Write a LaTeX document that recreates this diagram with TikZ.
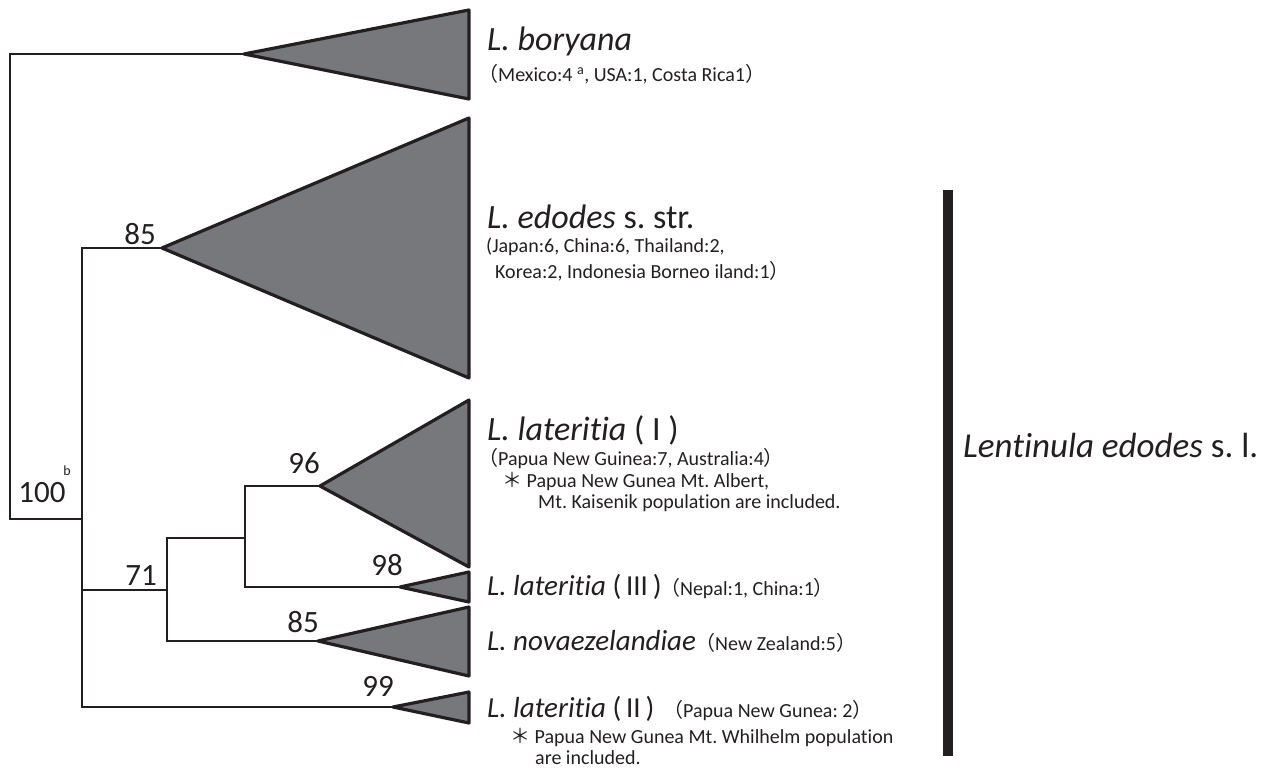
\documentclass[tikz,border=0pt]{standalone}
\usepackage{fontspec}
\setmainfont{Carlito}[Ligatures=NoCommon]
\newfontfamily\cjk{Noto Sans CJK JP}
\definecolor{cladegray}{HTML}{77787C}
\definecolor{ink}{HTML}{231F20}
\frenchspacing
\tikzset{
  branch/.style={draw=ink, line width=2.4pt, line join=miter, line cap=rect},
  clade/.style={draw=ink, fill=cladegray, line width=3.2pt, line join=round},
  bs/.style={font=\fontsize{31}{36}\selectfont, text=ink, inner sep=0pt},
  bigname/.style={font=\fontsize{34}{40}\selectfont, text=ink, anchor=base west, inner sep=0pt},
  midname/.style={font=\fontsize{29}{34}\selectfont, text=ink, anchor=base west, inner sep=0pt},
  info/.style={font=\fontsize{20}{24}\selectfont, text=ink, anchor=base west, inner sep=0pt},
  groupbar/.style={draw=ink, line width=10pt},
}
\begin{document}
\begin{tikzpicture}[x=1pt,y=-1pt]
\useasboundingbox (0,0) rectangle (1274,770);

% tree junction coordinates
\coordinate (rtop) at (10,54);
\coordinate (rbot) at (10,519);
\coordinate (n1in) at (82,519);
\coordinate (n1top) at (82,248);
\coordinate (n1bot) at (82,707);
\coordinate (n1mid) at (82,590);
\coordinate (n2in) at (167,590);
\coordinate (n2top) at (167,538);
\coordinate (n2bot) at (167,641);
\coordinate (n3in) at (245,538);
\coordinate (n3top) at (245,486);
\coordinate (n3bot) at (245,587);

% clade apexes
\coordinate (borA) at (244,54);
\coordinate (edoA) at (162,248);
\coordinate (latIA) at (320,486);
\coordinate (latIIIA) at (400,587);
\coordinate (novA) at (318,641);
\coordinate (latIIA) at (393,707);

% branches
\draw[branch] (borA) -- (rtop) -- (rbot) -- (n1in);
\draw[branch] (edoA) -- (n1top) -- (n1bot) -- (latIIA);
\draw[branch] (n1mid) -- (n2in);
\draw[branch] (n3in) -- (n2top) -- (n2bot) -- (novA);
\draw[branch] (latIA) -- (n3top) -- (n3bot) -- (latIIIA);

% collapsed clades
\draw[clade] (borA) -- (469,10) -- (469,99) -- cycle;
\draw[clade] (edoA) -- (469,118) -- (469,378) -- cycle;
\draw[clade] (latIA) -- (469,400) -- (469,567) -- cycle;
\draw[clade] (latIIIA) -- (469,572) -- (469,602) -- cycle;
\draw[clade] (novA) -- (469,607) -- (469,676) -- cycle;
\draw[clade] (latIIA) -- (469,692) -- (469,723) -- cycle;

% bootstrap values
\node[bs] (b85a) at (140,234) {85};
\node[bs] (b100) at (42,493) {100};
\node[font=\fontsize{14}{16}\selectfont, text=ink, inner sep=0pt] (sb) at (67,471) {b};
\node[bs] (b96) at (304,463) {96};
\node[bs] (b71) at (141,576) {71};
\node[bs] (b98) at (387,565) {98};
\node[bs] (b85b) at (303,622) {85};
\node[bs] (b99) at (378,686) {99};

% taxon labels
\node[bigname] (tbor) at (487,51) {\textit{L. boryana}};
\node[info] (ibor) at (478,82) {{\cjk （}Mexico:4 \textsuperscript{a}, USA:1, Costa Rica1{\cjk ）}};

\node[bigname] (tedo) at (487,229) {\textit{L. edodes} s. str.};
\node[info] (iedo1) at (486,252) {(Japan:6, China:6, Thailand:2,};
\node[info] (iedo2) at (495,278) {Korea:2, Indonesia Borneo iland:1{\cjk ）}};

\node[bigname] (tlatI) at (487,440) {\textit{L. lateritia} ( I )};
\node[info] (ilatI1) at (478,465) {{\cjk （}Papua New Guinea:7, Australia:4{\cjk ）}};
\node[info] (ilatI2) at (502,487) {{\cjk ＊} Papua New Gunea Mt. Albert,};
\node[info] (ilatI3) at (538,508) {Mt. Kaisenik population are included.};

\node[midname] (tlatIII) at (487,595) {\textit{L. lateritia} (\,III\,)};
\node[info, anchor=base west] (ilatIII) at ([xshift=-2pt]tlatIII.base east) {{\cjk （}Nepal:1, China:1{\cjk ）}};

\node[midname] (tnov) at (487,650) {\textit{L. novaezelandiae}};
\node[info] (inov) at (695,650) {{\cjk （}New Zealand:5{\cjk ）}};

\node[midname] (tlatII) at (487,717) {\textit{L. lateritia} (\,II\,)};
\node[info] (ilatII1) at (663,717) {{\cjk （}Papua New Gunea: 2{\cjk ）}};
\node[info] (ilatII2) at (510,743) {{\cjk ＊} Papua New Gunea Mt. Whilhelm population};
\node[info] (ilatII3) at (535,764) {are included.};

% group bar
\coordinate (bartop) at (948,190);
\coordinate (barbot) at (948,756);
\draw[groupbar] (bartop) -- (barbot);
\node[font=\fontsize{35}{41}\selectfont, text=ink, anchor=base west, inner sep=0pt] (grp) at (963,457) {\textit{Lentinula edodes} s. l.};
\end{tikzpicture}
\end{document}
